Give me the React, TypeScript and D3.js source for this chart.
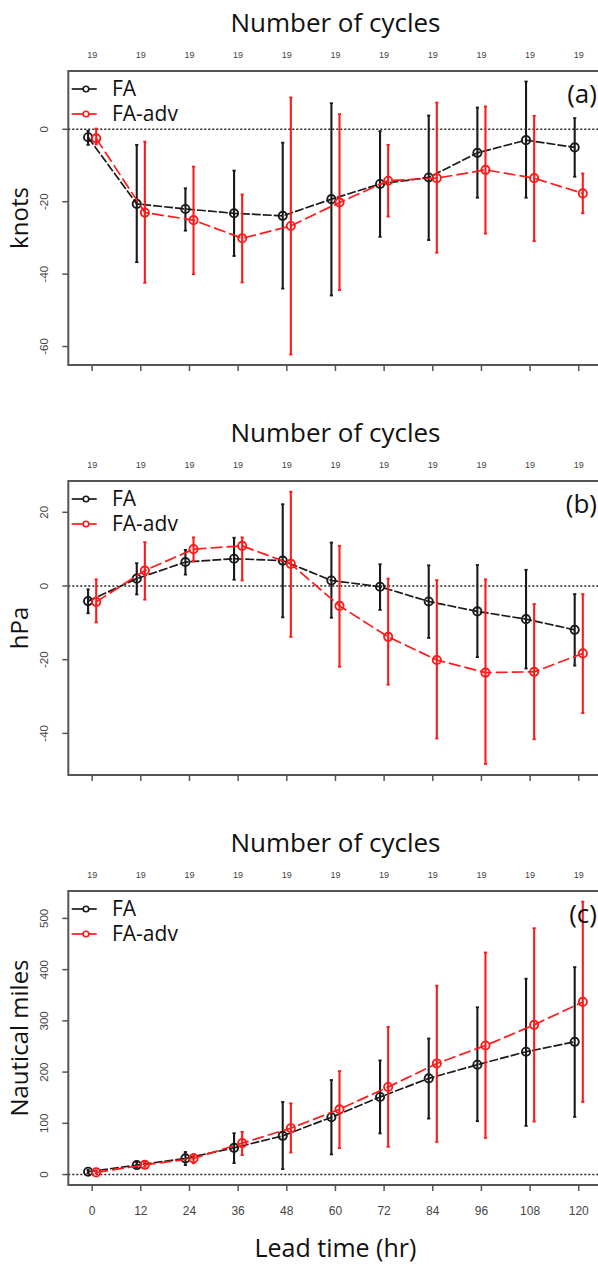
import React from "react";
import * as d3 from "d3";

const leadTimes = [0, 12, 24, 36, 48, 60, 72, 84, 96, 108, 120];
const cycleCounts = [19, 19, 19, 19, 19, 19, 19, 19, 19, 19, 19];

// (a) intensity error, knots
const faWind = [-2.2, -20.6, -22.0, -23.2, -23.9, -19.3, -15.1, -13.3, -6.5, -3.0, -5.0];
const faWindLow = [-4.3, -36.7, -28, -35, -44, -45.9, -29.7, -30.6, -18.9, -18.9, -13.1];
const faWindHigh = [-0.4, -4.3, -16.3, -11.4, -3.7, 7.2, -0.5, 3.8, 6.0, 13.2, 3.1];
const advWind = [-2.5, -23.0, -25.1, -30.1, -26.7, -20.2, -14.2, -13.5, -11.2, -13.5, -17.7];
const advWindLow = [-4.2, -42.4, -40, -42.3, -62.2, -44.4, -24.1, -34.1, -28.8, -30.9, -23.2];
const advWindHigh = [0.2, -3.4, -10.3, -18, 8.8, 4.2, -4.3, 7.4, 6.3, 3.7, -12.2];

// (b) pressure error, hPa
const faPres = [-4.1, 2.0, 6.5, 7.4, 6.9, 1.5, -0.2, -4.2, -6.9, -9.0, -11.9];
const faPresLow = [-7.4, -2.3, 3.1, 1.7, -8.5, -8.6, -6.5, -14.1, -19.3, -22.4, -21.6];
const faPresHigh = [-0.9, 6.2, 9.8, 13.1, 22.2, 11.8, 5.9, 5.6, 5.7, 4.4, -2.2];
const advPres = [-4.3, 4.2, 10.0, 10.9, 6.0, -5.4, -13.8, -20.1, -23.5, -23.3, -18.3];
const advPresLow = [-9.9, -3.7, 6.7, 1.5, -13.8, -21.9, -26.8, -41.4, -48.3, -41.6, -34.5];
const advPresHigh = [1.8, 11.9, 13.2, 13.2, 25.6, 10.9, 2.0, 1.6, 1.8, -4.9, -2.2];

// (c) track error, nautical miles
const faTrack = [5.5, 18.5, 31.5, 52.2, 75.5, 111.9, 151.4, 187.7, 214.4, 239.7, 259.1];
const faTrackLow = [2, 14, 18.5, 22.4, 10.7, 39.3, 80.2, 109.3, 104.1, 95, 112.5];
const faTrackHigh = [9, 24, 44, 80.7, 141.7, 184.5, 222.8, 265.6, 326.5, 382.3, 405];
const advTrack = [4.2, 19, 31.5, 61.3, 90.5, 127.4, 170.9, 216.9, 251.9, 292.2, 337];
const advTrackLow = [2, 15, 22, 38, 43, 51.6, 54.1, 63.8, 71.6, 103.5, 141.7];
const advTrackHigh = [8, 24, 40, 83.3, 139, 202, 288.3, 368.7, 433.5, 480.9, 532.7];

const W = 598;
const H = 1266;
const boxLeft = 68.3;
const boxRight = 602.6;
const boxH = 294;
const RED = "#ff1a1a";
const BLACK = "#1a1a1a";
const AXIS = "#555";
const TICKTXT = "#444";
const BIG = "'Open Sans', Lato, sans-serif";
const SMALL = "'Liberation Sans', Arial, sans-serif";

const panels = [
  {
    tag: "(a)", ylab: "knots", top: 71, domain: [-65.1, 16.1], ticks: [0, -20, -40, -60],
    fa: [faWind, faWindLow, faWindHigh], adv: [advWind, advWindLow, advWindHigh], xLabels: false,
  },
  {
    tag: "(b)", ylab: "hPa", top: 481, domain: [-51.3, 28.5], ticks: [20, 0, -20, -40],
    fa: [faPres, faPresLow, faPresHigh], adv: [advPres, advPresLow, advPresHigh], xLabels: false,
  },
  {
    tag: "(c)", ylab: "Nautical miles", top: 891, domain: [-20.4, 553.5], ticks: [0, 100, 200, 300, 400, 500],
    fa: [faTrack, faTrackLow, faTrackHigh], adv: [advTrack, advTrackLow, advTrackHigh], xLabels: true,
  },
];

const x = d3.scaleLinear().domain([-5.88, 125.88]).range([boxLeft, boxRight]);

function Series({ vals, y, color, offset, dash }) {
  const [mid, lo, hi] = vals;
  const pts = leadTimes.map((t, i) => [x(t + offset), y(mid[i])] as [number, number]);
  const line = d3.line()(pts);
  return (
    <g>
      {leadTimes.map((t, i) => (
        <g key={t}>
          <line x1={x(t + offset)} x2={x(t + offset)} y1={y(lo[i])} y2={y(hi[i])} stroke={color} strokeWidth={2.1} />
          <line x1={x(t + offset) - 1.6} x2={x(t + offset) + 1.6} y1={y(lo[i])} y2={y(lo[i])} stroke={color} strokeWidth={1.8} />
          <line x1={x(t + offset) - 1.6} x2={x(t + offset) + 1.6} y1={y(hi[i])} y2={y(hi[i])} stroke={color} strokeWidth={1.8} />
        </g>
      ))}
      <path d={line} fill="none" stroke={color} strokeWidth={1.7} strokeDasharray={dash} />
      {pts.map((p, i) => (
        <circle key={i} cx={p[0]} cy={p[1]} r={4.1} fill="none" stroke={color} strokeWidth={1.9} />
      ))}
    </g>
  );
}

function Panel({ p }) {
  const top = p.top;
  const bottom = top + boxH;
  const y = d3.scaleLinear().domain(p.domain).range([bottom, top]);
  const cx = (boxLeft + boxRight) / 2;
  return (
    <g>
      <text x={cx} y={top - 48} dy="0.35em" textAnchor="middle" fontFamily={BIG} fontSize={26} fill="#111">
        Number of cycles
      </text>
      {leadTimes.map((t, i) => (
        <text key={t} x={x(t)} y={top - 16} dy="0.35em" textAnchor="middle" fontFamily={SMALL} fontSize={9} fill={TICKTXT}>
          {cycleCounts[i]}
        </text>
      ))}
      <line x1={boxLeft} x2={boxRight} y1={y(0)} y2={y(0)} stroke="#222" strokeWidth={1.5} strokeDasharray="2,2" />
      <Series vals={p.fa} y={y} color={BLACK} offset={-1} dash="9,2" />
      <Series vals={p.adv} y={y} color={RED} offset={1} dash="12,4" />
      <rect x={boxLeft} y={top} width={boxRight - boxLeft} height={boxH} fill="none" stroke={AXIS} strokeWidth={2} />
      {p.ticks.map((v) => (
        <g key={v}>
          <line x1={boxLeft - 6} x2={boxLeft} y1={y(v)} y2={y(v)} stroke={AXIS} strokeWidth={1.5} />
          <text transform={`translate(${44},${y(v)}) rotate(-90)`} dy="0.35em" textAnchor="middle" fontFamily={SMALL} fontSize={11.5} fill={TICKTXT}>
            {v}
          </text>
        </g>
      ))}
      {leadTimes.map((t) => (
        <g key={t}>
          <line x1={x(t)} x2={x(t)} y1={bottom} y2={bottom + 6} stroke={AXIS} strokeWidth={1.5} />
          {p.xLabels && (
            <text x={x(t)} y={bottom + 26} dy="0.35em" textAnchor="middle" fontFamily={SMALL} fontSize={12} fill={TICKTXT}>
              {t}
            </text>
          )}
        </g>
      ))}
      <text transform={`translate(${20},${(top + bottom) / 2}) rotate(-90)`} dy="0.35em" textAnchor="middle" fontFamily={BIG} fontSize={24} fill="#111">
        {p.ylab}
      </text>
      <text x={597} y={top + 23} dy="0.35em" textAnchor="end" fontFamily={BIG} fontSize={26} fill="#111">
        {p.tag}
      </text>
      {[["FA", BLACK], ["FA-adv", RED]].map(([name, c], i) => (
        <g key={name}>
          <line x1={71.7} x2={96.7} y1={top + 18 + i * 25} y2={top + 18 + i * 25} stroke={c} strokeWidth={1.7} />
          <circle cx={86} cy={top + 18 + i * 25} r={2.8} fill="white" stroke={c} strokeWidth={1.6} />
          <text x={112} y={top + 18 + i * 25} dy="0.35em" fontFamily={BIG} fontSize={21} fill="#111">
            {name}
          </text>
        </g>
      ))}
    </g>
  );
}

export default function App() {
  return (
    <svg width={W} height={H} style={{ position: "absolute", left: 0, top: 0, background: "white" }}>
      <rect width={W} height={H} fill="white" />
      {panels.map((p) => (
        <Panel key={p.tag} p={p} />
      ))}
      <text x={(boxLeft + boxRight) / 2} y={1248} dy="0.35em" textAnchor="middle" fontFamily={BIG} fontSize={25} fill="#111">
        Lead time (hr)
      </text>
    </svg>
  );
}
